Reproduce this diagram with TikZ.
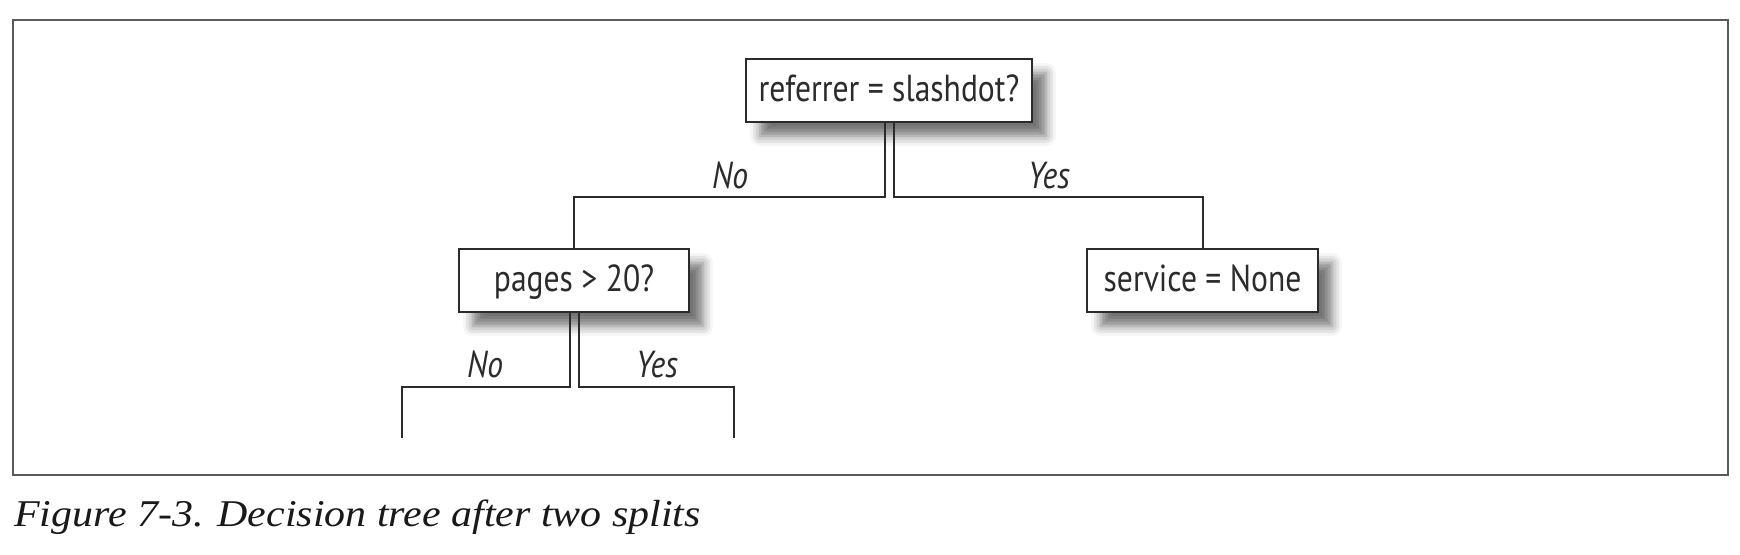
\documentclass[tikz,border=0pt]{standalone}
\usepackage{fontspec}
\setmainfont{Liberation Serif}
\newfontfamily\boxfont{PT Sans}[FakeStretch=0.84]
\newfontfamily\capfont{Liberation Serif}[FakeStretch=1.11]
\usetikzlibrary{shadows.blur}
\definecolor{ink}{HTML}{2B2B2B}
\definecolor{framegray}{HTML}{5A5A5A}

\begin{document}
\begin{tikzpicture}[x=0.5pt,y=-0.5pt]
	\tikzstyle{split}=[draw=ink,fill=white,line width=1.25pt,text=ink,minimum height=31.5pt,text height=11pt,text depth=0pt,inner sep=0pt,font=\boxfont\fontsize{18.8}{20}\selectfont,blur shadow={shadow xshift=7pt,shadow yshift=-7pt,shadow blur radius=5pt,shadow opacity=55}];
	\tikzstyle{branch}=[text=ink,anchor=base,inner sep=0pt,font=\boxfont\itshape\fontsize{18.8}{20}\selectfont];
	\tikzstyle{every path}=[line width=1pt];

	\useasboundingbox (0, 0) rectangle (1740, 554);
	\draw[framegray] (13, 20) rectangle (1728, 475);

	\node at (889, 90.5)    (root)    [split,minimum width=143pt] {referrer = slashdot?};
	\node at (574, 280.5)   (pages)   [split,minimum width=115pt] {pages > 20?};
	\node at (1202.5, 280.5) (service) [split,minimum width=115.5pt] {service = None};

	\coordinate (lvl1) at (0, 197);
	\coordinate (lvl2) at (0, 387);
	\coordinate (noleaf) at (402, 438);
	\coordinate (yesleaf) at (734, 438);

	\draw[ink] ([xshift=-2.25pt]root.south) -- ([xshift=-2.25pt]root.south |- lvl1) -| (pages.north);
	\draw[ink] ([xshift=2.25pt]root.south) -- ([xshift=2.25pt]root.south |- lvl1) -| (service.north);
	\draw[ink] ([xshift=-2.25pt]pages.south) -- ([xshift=-2.25pt]pages.south |- lvl2) -| (noleaf);
	\draw[ink] ([xshift=2.25pt]pages.south) -- ([xshift=2.25pt]pages.south |- lvl2) -| (yesleaf);

	\node at (730, 188)  (no1)  [branch] {No};
	\node at (1049, 188) (yes1) [branch] {Yes};
	\node at (485, 377)  (no2)  [branch] {No};
	\node at (657, 377)  (yes2) [branch] {Yes};

	\node at (13, 526) (caption) [anchor=base west,inner sep=0pt,text=black!90,font=\capfont\itshape\fontsize{18.9}{22}\selectfont] {Figure 7-3. Decision tree after two splits};
\end{tikzpicture}
\end{document}
